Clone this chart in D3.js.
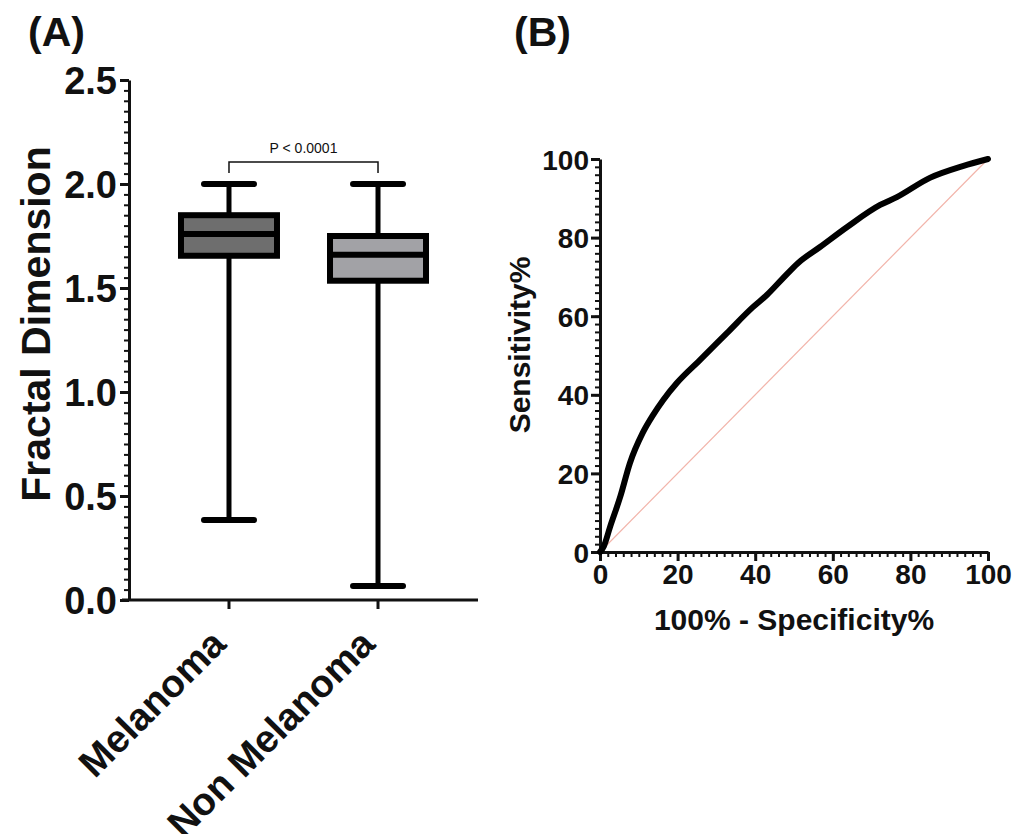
<!DOCTYPE html>
<html lang="en">
<head>
    <meta charset="UTF-8">
    <title>Fractal dimension and ROC</title>
    <script src="https://d3js.org/d3.v7.min.js"></script>
    <style>
        body { margin: 0; background: #fff; }
        svg { display: block; }
        text { font-family: "Liberation Sans", Arial, sans-serif; fill: #111; }
        .axis path, .axis line { stroke: #111; }
    </style>
</head>
<body>
    <svg width="1029" height="834"></svg>

    <script>
        // panel A: box plot summary
        const categories = ["Melanoma", "Non Melanoma"];
        const boxMin    = [0.385, 0.067];
        const boxQ1     = [1.655, 1.535];
        const boxMedian = [1.76, 1.66];
        const boxQ3     = [1.85, 1.75];
        const boxMax    = [2.0, 2.0];
        const boxFill   = ["#6e6e6e", "#a2a2a6"];
        const yTicksA   = [0, 0.5, 1.0, 1.5, 2.0, 2.5];
        const pLabel    = "P < 0.0001";

        // panel B: ROC curve
        const fpr = [0, 1, 2.6, 5.2, 7.7, 11, 13.7, 16.3, 19.8, 25.8, 32.7, 39.4, 43, 47, 51, 56.7, 63.7, 72.2, 76.5, 85, 93.5, 100];
        const tpr = [0, 1.5, 6.4, 14, 22.6, 30.3, 34.9, 38.7, 43, 48.9, 55.7, 62.3, 65.4, 69.5, 73.5, 77.6, 82.7, 88.3, 90.3, 95.2, 98.2, 100];
        const ticksB = [0, 20, 40, 60, 80, 100];

        const svg = d3.select("svg");

        // ---------- panel A ----------
        const yA = d3.scaleLinear().domain([0, 2.5]).range([600, 80]);
        const xA = d3.scalePoint().domain(categories).range([129, 478]).padding(0.671);

        const gA = svg.append("g");

        gA.append("text").attr("x", 28).attr("y", 46)
            .style("font-size", "41px").style("font-weight", "bold").text("(A)");

        // minor ticks
        gA.append("g").attr("class", "axis")
            .attr("transform", "translate(129,0)")
            .call(d3.axisLeft(yA).tickValues(d3.range(0, 2.5001, 0.05)).tickSize(5).tickFormat(""))
            .call(g => g.select(".domain").remove())
            .selectAll("line").attr("stroke-width", 2);

        const yAxisA = gA.append("g").attr("class", "axis")
            .attr("transform", "translate(129,0)")
            .call(d3.axisLeft(yA).tickValues(yTicksA).tickSize(9).tickPadding(3).tickSizeOuter(0)
                .tickFormat(d3.format(".1f")));
        yAxisA.select(".domain").attr("stroke-width", 3);
        yAxisA.selectAll("line").attr("stroke-width", 3);
        yAxisA.selectAll("text").style("font-size", "38px").style("font-weight", "bold")
            .attr("dy", "0.36em");

        gA.append("text")
            .attr("transform", "translate(50,324) rotate(-90)")
            .attr("text-anchor", "middle")
            .style("font-size", "41px").style("font-weight", "bold")
            .text("Fractal Dimension");

        // x axis
        gA.append("line").attr("x1", 122).attr("x2", 478).attr("y1", 600).attr("y2", 600)
            .attr("stroke", "#111").attr("stroke-width", 3);
        gA.selectAll(".xtick").data(categories).enter().append("line")
            .attr("x1", d => xA(d)).attr("x2", d => xA(d))
            .attr("y1", 600).attr("y2", 609)
            .attr("stroke", "#111").attr("stroke-width", 3);
        gA.selectAll(".xlab").data(categories).enter().append("text")
            .attr("transform", d => `translate(${xA(d) - 1},${646}) rotate(-45)`)
            .attr("text-anchor", "end")
            .style("font-size", "38.5px").style("font-weight", "bold")
            .text(d => d);

        // boxes
        const boxW = 96, capW = 50;
        const boxes = gA.selectAll(".box").data(categories).enter().append("g");

        boxes.append("line")
            .attr("x1", d => xA(d)).attr("x2", d => xA(d))
            .attr("y1", (d, i) => yA(boxMax[i])).attr("y2", (d, i) => yA(boxMin[i]))
            .attr("stroke", "#000").attr("stroke-width", 5);
        boxes.selectAll(".cap").data((d, i) => [[d, boxMin[i]], [d, boxMax[i]]]).enter().append("line")
            .attr("x1", d => xA(d[0]) - capW / 2).attr("x2", d => xA(d[0]) + capW / 2)
            .attr("y1", d => yA(d[1])).attr("y2", d => yA(d[1]))
            .attr("stroke", "#000").attr("stroke-width", 6).attr("stroke-linecap", "round");
        boxes.append("rect")
            .attr("x", d => xA(d) - boxW / 2).attr("width", boxW)
            .attr("y", (d, i) => yA(boxQ3[i]))
            .attr("height", (d, i) => yA(boxQ1[i]) - yA(boxQ3[i]))
            .attr("fill", (d, i) => boxFill[i])
            .attr("stroke", "#000").attr("stroke-width", 6);
        boxes.append("line")
            .attr("x1", d => xA(d) - boxW / 2).attr("x2", d => xA(d) + boxW / 2)
            .attr("y1", (d, i) => yA(boxMedian[i])).attr("y2", (d, i) => yA(boxMedian[i]))
            .attr("stroke", "#000").attr("stroke-width", 6);

        // significance bracket
        const bx1 = xA(categories[0]), bx2 = xA(categories[1]);
        gA.append("path")
            .attr("d", `M${bx1},173V162H${bx2}V173`)
            .attr("fill", "none").attr("stroke", "#111").attr("stroke-width", 1.5);
        gA.append("text").attr("x", (bx1 + bx2) / 2).attr("y", 153)
            .attr("text-anchor", "middle").style("font-size", "14px")
            .text(pLabel);

        // ---------- panel B ----------
        const xB = d3.scaleLinear().domain([0, 100]).range([600, 988]);
        const yB = d3.scaleLinear().domain([0, 100]).range([552, 159]);
        const gB = svg.append("g");

        gB.append("text").attr("x", 514).attr("y", 46)
            .style("font-size", "41px").style("font-weight", "bold").text("(B)");

        // minor ticks
        gB.append("g").attr("class", "axis").attr("transform", "translate(600,0)")
            .call(d3.axisLeft(yB).tickValues(d3.range(0, 100.01, 2)).tickSize(5).tickFormat(""))
            .call(g => g.select(".domain").remove())
            .selectAll("line").attr("stroke-width", 2);
        gB.append("g").attr("class", "axis").attr("transform", "translate(0,552)")
            .call(d3.axisBottom(xB).tickValues(d3.range(0, 100.01, 2)).tickSize(5).tickFormat(""))
            .call(g => g.select(".domain").remove())
            .selectAll("line").attr("stroke-width", 2);

        const yAxisB = gB.append("g").attr("class", "axis").attr("transform", "translate(600,0)")
            .call(d3.axisLeft(yB).tickValues(ticksB).tickSize(9).tickPadding(2).tickSizeOuter(0));
        const xAxisB = gB.append("g").attr("class", "axis").attr("transform", "translate(0,552)")
            .call(d3.axisBottom(xB).tickValues(ticksB).tickSize(9).tickPadding(3).tickSizeOuter(0));
        [yAxisB, xAxisB].forEach(ax => {
            ax.select(".domain").attr("stroke-width", 3);
            ax.selectAll("line").attr("stroke-width", 3);
            ax.selectAll("text").style("font-size", "28px").style("font-weight", "bold");
        });
        yAxisB.selectAll("text").attr("dy", "0.36em");

        gB.append("text").attr("x", 794).attr("y", 630)
            .attr("text-anchor", "middle")
            .style("font-size", "30px").style("font-weight", "bold")
            .text("100% - Specificity%");
        gB.append("text")
            .attr("transform", "translate(530,345) rotate(-90)")
            .attr("text-anchor", "middle")
            .style("font-size", "30px").style("font-weight", "bold")
            .text("Sensitivity%");

        // reference diagonal
        gB.append("line")
            .attr("x1", xB(0)).attr("y1", yB(0)).attr("x2", xB(100)).attr("y2", yB(100))
            .attr("stroke", "#f2b4aa").attr("stroke-width", 1.2);

        const roc = fpr.map((d, i) => [d, tpr[i]]);
        gB.append("path").datum(roc)
            .attr("fill", "none").attr("stroke", "#000").attr("stroke-width", 6)
            .attr("stroke-linecap", "round").attr("stroke-linejoin", "round")
            .attr("d", d3.line().x(d => xB(d[0])).y(d => yB(d[1])).curve(d3.curveMonotoneX));
    </script>
</body>
</html>
